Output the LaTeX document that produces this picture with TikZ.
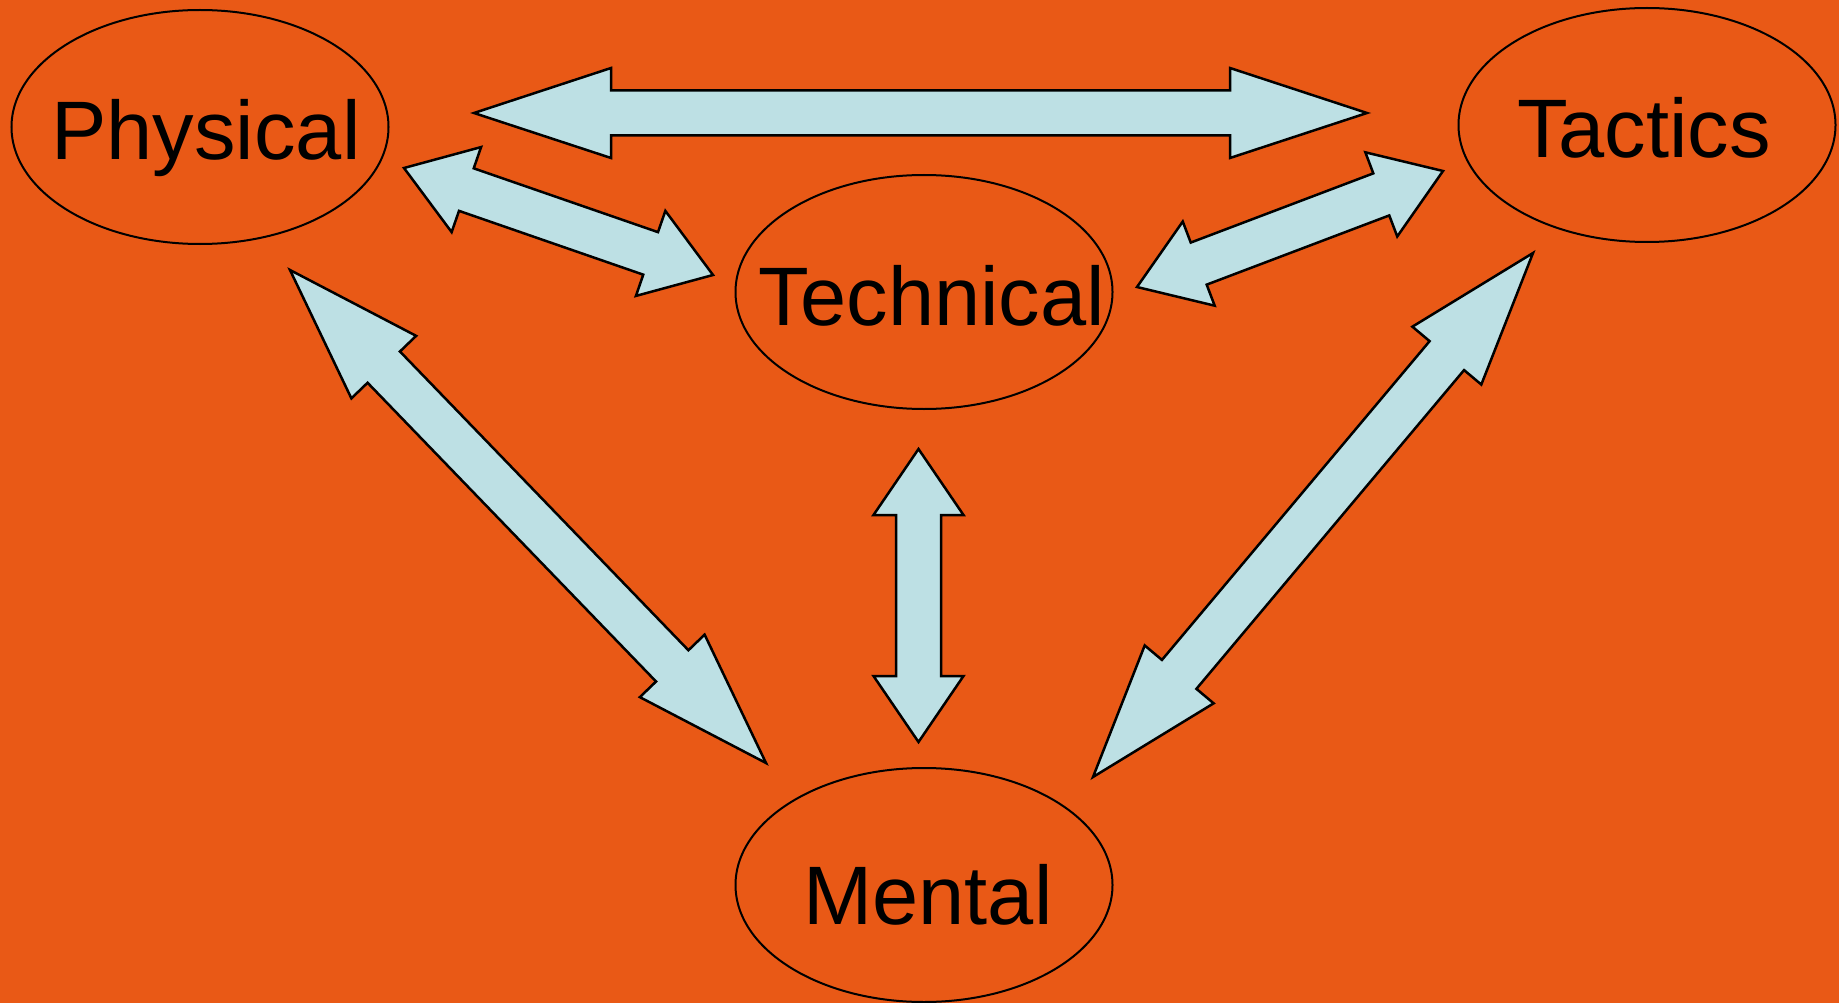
\documentclass[tikz,border=0pt]{standalone}
\usepackage{fontspec}
\setmainfont{Liberation Sans}
\usetikzlibrary{shapes.geometric,calc}

\definecolor{bgorange}{RGB}{233,89,22}
\definecolor{linkblue}{RGB}{189,224,228}

% block arrow with a head at both ends: tip, tip, head length, name
\newcommand{\dblarrow}[4]{%
  \coordinate (#4-ha) at ($(#1)!#3!(#2)$);
  \coordinate (#4-hb) at ($(#2)!#3!(#1)$);
  \draw[link] (#1)
    -- ($(#4-ha)!45pt!90:(#2)$) -- ($(#4-ha)!22.5pt!90:(#2)$)
    -- ($(#4-hb)!22.5pt!-90:(#1)$) -- ($(#4-hb)!45pt!-90:(#1)$)
    -- (#2)
    -- ($(#4-hb)!45pt!90:(#1)$) -- ($(#4-hb)!22.5pt!90:(#1)$)
    -- ($(#4-ha)!22.5pt!-90:(#2)$) -- ($(#4-ha)!45pt!-90:(#2)$)
    -- cycle;
}

\begin{document}
\begin{tikzpicture}[x=1pt,y=-1pt,
    area/.style={ellipse, draw, line width=2pt, minimum width=377pt, minimum height=234pt, inner sep=0pt},
    tag/.style={font=\fontsize{83}{90}\selectfont, text height=66pt, text depth=0pt, inner sep=0pt},
    link/.style={fill=linkblue, draw, line width=2.5pt}]
    \fill[bgorange] (0,0) rectangle (1839,1003);
    \useasboundingbox (0,0) rectangle (1839,1003);

    % the four areas
    \node[area] (physical) at (200,127) {};
    \node[area] (tactics) at (1647,125) {};
    \node[area] (technical) at (924,292) {};
    \node[area] (mental) at (924,885) {};
    \node[tag] (physical-t) at ([xshift=6pt]physical.center) {Physical};
    \node[tag] (tactics-t) at ([xshift=-3pt]tactics.center) {Tactics};
    \node[tag] (technical-t) at ([xshift=8pt]technical.center) {Technical};
    \node[tag] (mental-t) at ([xshift=4pt,yshift=-6pt]mental.center) {Mental};

    % arrow tips
    \coordinate (pt-a) at (474,113);
    \coordinate (pt-b) at (1367,113);
    \coordinate (pc-a) at (404,168);
    \coordinate (pc-b) at (713,275);
    \coordinate (ct-a) at (1137,287);
    \coordinate (ct-b) at (1443,171);
    \coordinate (cm-a) at (918.5,449);
    \coordinate (cm-b) at (918.5,742);
    \coordinate (pm-a) at (290,270);
    \coordinate (pm-b) at (766,763);
    \coordinate (tm-a) at (1533,253);
    \coordinate (tm-b) at (1093,777);

    \dblarrow{pt-a}{pt-b}{137pt}{pt}
    \dblarrow{pc-a}{pc-b}{66pt}{pc}
    \dblarrow{ct-a}{ct-b}{66pt}{ct}
    \dblarrow{cm-a}{cm-b}{66pt}{cm}
    \dblarrow{pm-a}{pm-b}{135pt}{pm}
    \dblarrow{tm-a}{tm-b}{134pt}{tm}
\end{tikzpicture}
\end{document}
